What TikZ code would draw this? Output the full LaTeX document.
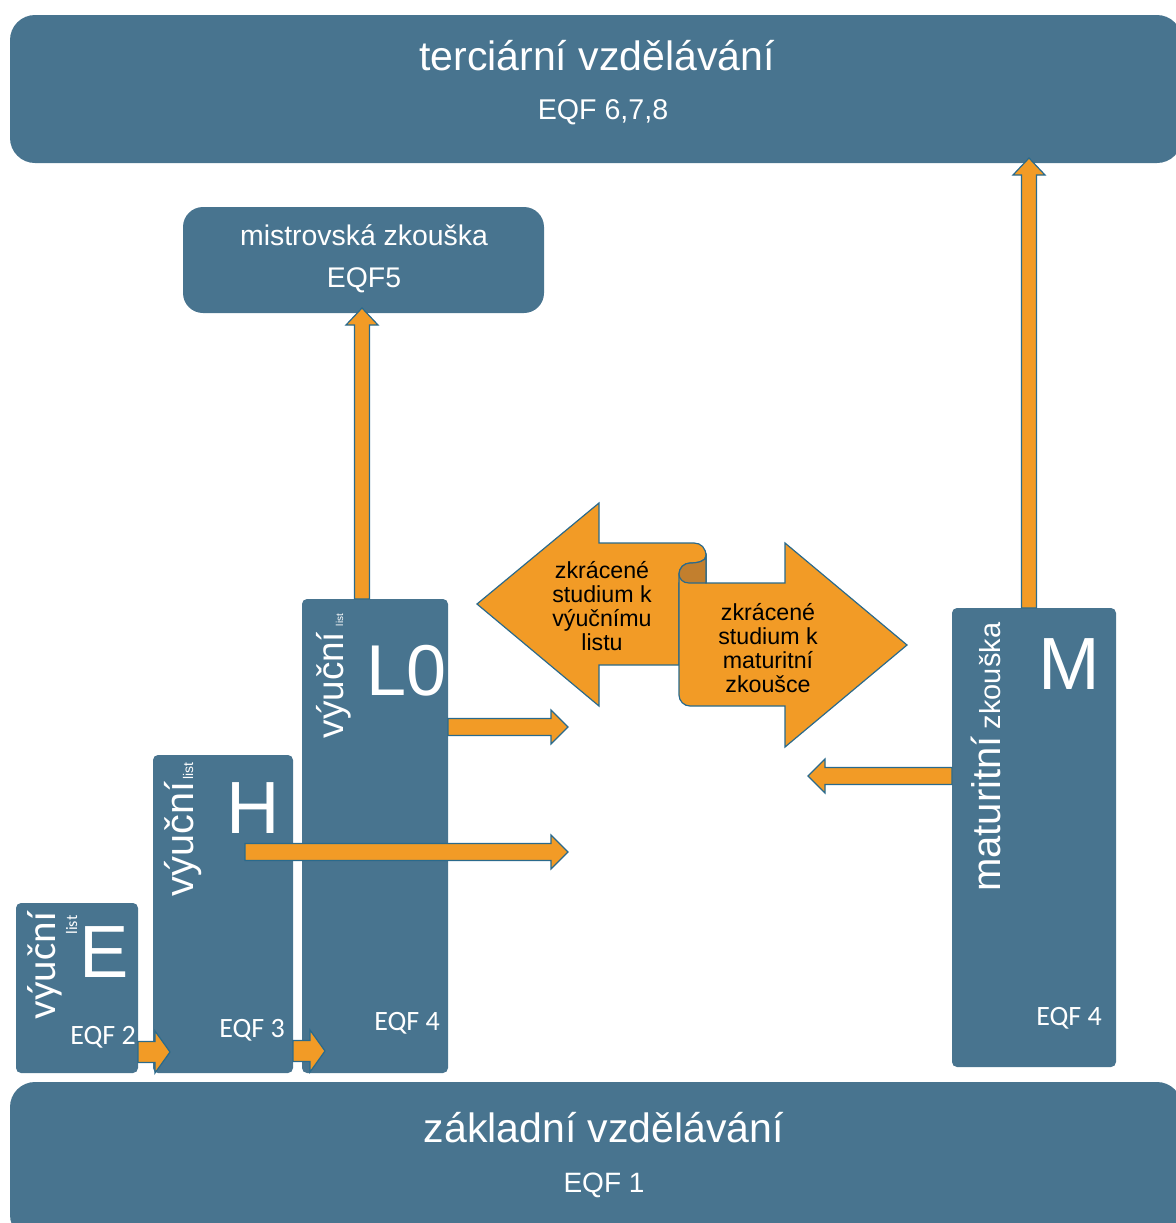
\documentclass[tikz,border=0pt]{standalone}
\usepackage{fontspec}
\setmainfont{Liberation Sans}
\newfontfamily\calfont{Carlito}
\usetikzlibrary{calc}
\definecolor{slate}{HTML}{48748F}
\definecolor{amber}{HTML}{F29B26}
\definecolor{amberdark}{HTML}{C27F2E}
\definecolor{rim}{HTML}{2A6A8C}

\tikzset{
  box/.style={fill=slate, draw=none, rounded corners=#1, inner sep=0pt, outer sep=0pt},
  box/.default=2.5pt,
  blockarr/.style={fill=amber, draw=rim, line width=0.6pt, line join=miter},
  wtxt/.style={text=white, inner sep=0pt, outer sep=0pt},
  btxt/.style={text=black, inner sep=0pt, outer sep=0pt, align=center,
    font=\fontsize{11.6}{12}\selectfont},
}

% broad block arrow: start, tip, shaft half-width, head half-width, head length
\newcommand{\blockarrow}[5]{%
  \coordinate (ba-h) at ($(#2)!#5!(#1)$);
  \draw[blockarr] ($(#1)!#3!90:(#2)$) -- ($(ba-h)!#3!90:(#2)$)
    -- ($(ba-h)!#4!90:(#2)$) -- (#2) -- ($(ba-h)!#4!-90:(#2)$)
    -- ($(ba-h)!#3!-90:(#2)$) -- ($(#1)!#3!-90:(#2)$) -- cycle;
}

\begin{document}
\begin{tikzpicture}[x=0.5pt,y=-0.5pt]
\useasboundingbox (0,0) rectangle (1176,1223);

% levels
\node[box=12.5pt, minimum width=586pt, minimum height=74pt] (tert) at (596,89) {};
\node[box=12.5pt, minimum width=586pt, minimum height=79pt] (zakl) at (596,1161) {};
\node[box=10pt, minimum width=180.5pt, minimum height=53pt] (mistr) at (363.5,260) {};
\node[box, minimum width=61pt, minimum height=85pt] (E) at (77,988) {};
\node[box, minimum width=70pt, minimum height=159pt] (H) at (223,914) {};
\node[box, minimum width=73pt, minimum height=237pt] (L) at (375,836) {};
\node[box, minimum width=82pt, minimum height=229.5pt] (M) at (1034,837.5) {};

% labels of the wide boxes
\node[wtxt, anchor=base, font=\fontsize{20.5}{24}\selectfont] (tertT) at (597,70) {terciární vzdělávání};
\node[wtxt, anchor=base, font=\fontsize{14.3}{17}\selectfont] (tertQ) at (603,119) {EQF 6,7,8};
\node[wtxt, anchor=base, font=\fontsize{20.5}{24}\selectfont] (zaklT) at (604,1142) {základní vzdělávání};
\node[wtxt, anchor=base, font=\fontsize{14}{17}\selectfont] (zaklQ) at (604,1192) {EQF 1};
\node[wtxt, anchor=base, font=\fontsize{14.2}{17}\selectfont] (mistrT) at (364,245) {mistrovská zkouška};
\node[wtxt, anchor=base, font=\fontsize{14.2}{17}\selectfont] (mistrQ) at (364,287) {EQF5};

% column letters
\node[wtxt, anchor=base, font=\fontsize{37}{40}\selectfont] (Elet) at (104,977) {E};
\node[wtxt, anchor=base, font=\fontsize{37}{40}\selectfont] (Hlet) at (253,833) {H};
\node[wtxt, anchor=base, font=\fontsize{36}{40}\selectfont] (Llet) at (407,695) {L0};
\node[wtxt, anchor=base, font=\fontsize{37}{40}\selectfont] (Mlet) at (1069,689) {M};

% EQF levels of the columns
\node[wtxt, anchor=base, font=\calfont\fontsize{14}{17}\selectfont] (Eq) at (103,1044) {EQF 2};
\node[wtxt, anchor=base, font=\calfont\fontsize{14}{17}\selectfont] (Hq) at (252,1037) {EQF 3};
\node[wtxt, anchor=base, font=\calfont\fontsize{14}{17}\selectfont] (Lq) at (407,1030) {EQF 4};
\node[wtxt, anchor=base, font=\calfont\fontsize{14}{17}\selectfont] (Mq) at (1069,1025) {EQF 4};

% vertical captions
\node[wtxt, anchor=base, rotate=90, font=\calfont\fontsize{20.5}{24}\selectfont] (Ev) at (55,966) {výuční};
\node[wtxt, anchor=base, rotate=90, font=\calfont\fontsize{8}{9}\selectfont] (El) at (77,925) {list};
\node[wtxt, anchor=base, rotate=90, font=\fontsize{19.8}{24}\selectfont] (Hv) at (193,839) {výuční};
\node[wtxt, anchor=base, rotate=90, font=\fontsize{7}{8}\selectfont] (Hl) at (193,771) {list};
\node[wtxt, anchor=base, rotate=90, font=\fontsize{18.4}{21}\selectfont] (Lv) at (343,685) {výuční};
\node[wtxt, anchor=base, rotate=90, font=\fontsize{5}{6}\selectfont] (Ll) at (343,620) {list};
\node[wtxt, anchor=base, rotate=90, font=\fontsize{20}{24}\selectfont] (Mv) at (1000,814) {maturitní};
\node[wtxt, anchor=base, rotate=90, font=\fontsize{14.5}{17}\selectfont] (Mz) at (1000,676) {zkouška};

% progression arrows
\coordinate (a1s) at ($(E.south east)+(0,-21)$);
\coordinate (a1e) at ($(H.south west)+(17,-21)$);
\blockarrow{a1s}{a1e}{5.25pt}{10.5pt}{7.5pt}
\coordinate (a2s) at ($(H.south east)+(0,-22)$);
\coordinate (a2e) at ($(L.south west)+(23,-22)$);
\blockarrow{a2s}{a2e}{5.25pt}{10.5pt}{7.5pt}
\coordinate (a3s) at ($(L.east)+(0,-109)$);
\coordinate (a3e) at ($(L.east)+(120,-109)$);
\blockarrow{a3s}{a3e}{4.25pt}{8.5pt}{8.5pt}
\coordinate (a4s) at ($(H.south east)+(-48,-221)$);
\coordinate (a4e) at ($(L.east)+(120,16)$);
\blockarrow{a4s}{a4e}{4.25pt}{8.5pt}{8.5pt}
\coordinate (a5s) at ($(M.west)+(0,-61.5)$);
\coordinate (a5e) at ($(M.west)+(-144,-61.5)$);
\blockarrow{a5s}{a5e}{4.25pt}{8.5pt}{8.5pt}
\coordinate (a6s) at ($(L.north)+(-13,0)$);
\coordinate (a6e) at ($(mistr.south)+(-1.5,-5)$);
\blockarrow{a6s}{a6e}{3.75pt}{8pt}{8.5pt}
\coordinate (a7s) at ($(M.north)+(-5,0)$);
\coordinate (a7e) at ($(tert.south -| M.north)+(-5,-5)$);
\blockarrow{a7s}{a7e}{3.75pt}{8pt}{8.5pt}

% opposing scroll arrows
\draw[blockarr] (477,604) -- (599,503) -- (599,543) -- (694,543)
  .. controls (701,543) and (706,548) .. (706,556) -- (706,583) -- (679,583)
  -- (679,665) -- (599,665) -- (599,706) -- cycle;
\draw[blockarr] (706,556) .. controls (706,561) and (698,563) .. (690,563)
  .. controls (684,563) and (679,568) .. (679,574) -- (679,695)
  .. controls (679,701) and (684,706) .. (690,706) -- (785,706) -- (785,747)
  -- (907,645) -- (785,543) -- (785,583) -- (706,583) -- cycle;
\fill[amberdark] (706,556) .. controls (706,561) and (698,563) .. (690,563)
  .. controls (684,563) and (679,568) .. (679,574)
  .. controls (679,579) and (683,583) .. (689,583) -- (706,583) -- cycle;
\draw[rim, line width=0.6pt] (706,556) .. controls (706,561) and (698,563) .. (690,563)
  .. controls (684,563) and (679,568) .. (679,574)
  .. controls (679,579) and (683,583) .. (689,583) -- (706,583) -- cycle;

\node[btxt] (sl) at (602,606) {zkrácené\\studium k\\výučnímu\\listu};
\node[btxt] (sr) at (768,648) {zkrácené\\studium k\\maturitní\\zkoušce};
\end{tikzpicture}
\end{document}
